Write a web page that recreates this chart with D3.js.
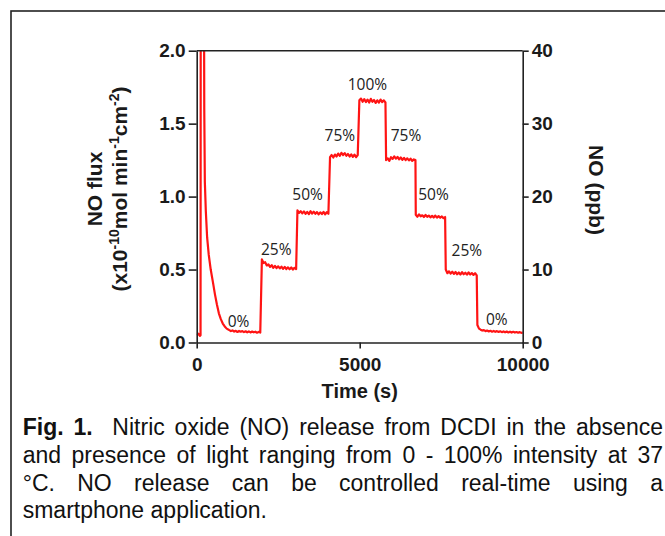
<!DOCTYPE html>
<html>
<head>
<meta charset="utf-8">
<script src="https://cdn.jsdelivr.net/npm/d3@7"></script>
<style>
  body { margin: 0; background: #fff; }
  svg { display: block; }
</style>
</head>
<body>
<script>
// NO flux trace, time in s, flux in x10^-10 mol min^-1 cm^-2
const startTrace = [[0,0.05],[50,0.06],[100,0.045],[118,0.05],[124,2.6],[222,2.6],[232,1.6],[250,1.1],[280,0.9],
  [320,0.72],[370,0.6],[430,0.5],[500,0.41],[560,0.33],[620,0.26],[680,0.2],[740,0.16],[800,0.13],[860,0.11],
  [920,0.095],[980,0.088]];
// plateaus sampled every 50 s from their start time
const off1 = {t0: 1000, v: [0.085,0.078,0.083,0.075,0.08,0.072,0.079,0.074,0.078,0.071,0.077,0.07,0.076,0.069,0.075,0.07,0.074,0.067,0.073,0.068]};
const on25a = {t0: 2000, v: [0.57,0.545,0.55,0.528,0.535,0.518,0.53,0.512,0.525,0.51,0.522,0.508,0.52,0.505,0.518,0.503,0.515,0.502,0.514,0.5,0.512,0.503]};
const on50a = {t0: 3090, v: [0.905,0.888,0.9,0.885,0.898,0.882,0.895,0.88,0.9,0.884,0.896,0.882,0.894,0.878,0.892,0.88,0.895,0.879,0.893,0.882]};
const on75a = {t0: 4090, v: [1.27,1.285,1.268,1.288,1.275,1.295,1.28,1.3,1.285,1.298,1.28,1.292,1.275,1.29,1.272,1.288,1.27,1.285]};
const on100 = {t0: 4990, v: [1.66,1.672,1.65,1.668,1.648,1.665,1.645,1.67,1.65,1.662,1.642,1.66,1.645,1.665,1.648,1.66,1.645]};
const on75b = {t0: 5810, v: [1.25,1.262,1.245,1.27,1.258,1.275,1.26,1.272,1.255,1.268,1.252,1.265,1.25,1.262,1.248,1.26,1.245,1.255,1.25]};
const on50b = {t0: 6720, v: [0.875,0.862,0.878,0.865,0.872,0.86,0.874,0.862,0.87,0.858,0.868,0.857,0.87,0.856,0.866,0.855,0.864,0.852,0.86]};
const on25b = {t0: 7640, v: [0.5,0.475,0.488,0.472,0.485,0.47,0.483,0.468,0.48,0.466,0.482,0.468,0.478,0.465,0.48,0.466,0.476,0.463,0.475,0.46]};
const off2 = {t0: 8610, v: [0.12,0.095,0.088,0.082,0.085,0.078,0.082,0.076,0.08,0.074,0.079,0.073,0.078,0.072,0.077,0.071,0.076,0.07,0.075,0.069,0.074,0.068,0.073,0.068,0.072,0.067,0.071,0.066,0.068]};
const sampleStep = 50;

// light intensity labels (centre time, baseline flux)
const stepLabels = [
  {text: "0%", t: 1285, v: 0.106},
  {text: "25%", t: 2440, v: 0.60},
  {text: "50%", t: 3400, v: 0.98},
  {text: "75%", t: 4390, v: 1.38},
  {text: "100%", t: 5235, v: 1.73},
  {text: "75%", t: 6420, v: 1.38},
  {text: "50%", t: 7265, v: 0.98},
  {text: "25%", t: 8285, v: 0.59},
  {text: "0%", t: 9207, v: 0.12}
];

const fluxTicks = [0, 0.5, 1.0, 1.5, 2.0];
const ppbTicks = [0, 10, 20, 30, 40];
const timeTicks = [0, 5000, 10000];

const captionLines = [
  "Fig. 1.  Nitric oxide (NO) release from DCDI in the absence",
  "and presence of light ranging from 0 - 100% intensity at 37",
  "°C. NO release can be controlled real-time using a",
  "smartphone application."
];

const W = 665, H = 536;
const plot = {left: 196.7, right: 522.7, top: 50.7, bottom: 342.5};

const svg = d3.select("body").append("svg").attr("width", W).attr("height", H);

// frame around figure + caption
svg.append("rect").attr("x", 11).attr("y", 11).attr("width", 720).attr("height", 600)
  .attr("fill", "none").attr("stroke", "#222").attr("stroke-width", 1.6);

const x = d3.scaleLinear().domain([0, 10000]).range([plot.left, plot.right]);
const y = d3.scaleLinear().domain([0, 2]).range([plot.bottom, plot.top]);
const y2 = d3.scaleLinear().domain([0, 40]).range([plot.bottom, plot.top]);

// build trace
let trace = startTrace.slice();
[off1, on25a, on50a, on75a, on100, on75b, on50b, on25b, off2].forEach(s => {
  s.v.forEach((v, i) => trace.push([s.t0 + i * sampleStep, v]));
});

svg.append("clipPath").attr("id", "clip").append("rect")
  .attr("x", plot.left).attr("y", plot.top)
  .attr("width", plot.right - plot.left).attr("height", plot.bottom - plot.top);

const line = d3.line().x(d => x(d[0])).y(d => y(d[1]));
svg.append("path").datum(trace)
  .attr("clip-path", "url(#clip)")
  .attr("d", line)
  .attr("fill", "none").attr("stroke", "#ff1414")
  .attr("stroke-width", 2.2).attr("stroke-linejoin", "round");

// axes
const axisFont = "Liberation Sans, Arial, sans-serif";
function styleAxis(g) {
  g.select(".domain").attr("stroke", "#222").attr("stroke-width", 1.6);
  g.selectAll(".tick line").attr("stroke", "#222").attr("stroke-width", 1.6);
  g.selectAll(".tick text").attr("fill", "#1a1a1a")
    .style("font-family", axisFont).style("font-weight", "bold").style("font-size", "19px");
}

svg.append("g").attr("transform", `translate(${plot.left},0)`)
  .call(d3.axisLeft(y).tickValues(fluxTicks).tickFormat(d3.format(".1f")).tickSize(8).tickPadding(3).tickSizeOuter(0))
  .call(styleAxis);
svg.append("g").attr("transform", `translate(${plot.right},0)`)
  .call(d3.axisRight(y2).tickValues(ppbTicks).tickSize(6).tickPadding(3).tickSizeOuter(0))
  .call(styleAxis);
svg.append("g").attr("transform", `translate(0,${plot.bottom})`)
  .call(d3.axisBottom(x).tickValues(timeTicks).tickFormat(d3.format("d")).tickSize(6).tickPadding(9).tickSizeOuter(0))
  .call(styleAxis);
// top frame line
svg.append("line").attr("x1", plot.left).attr("x2", plot.right)
  .attr("y1", plot.top).attr("y2", plot.top)
  .attr("stroke", "#222").attr("stroke-width", 1.6);

// axis titles
svg.append("text").attr("x", (plot.left + plot.right) / 2).attr("y", 397.5)
  .attr("text-anchor", "middle").attr("fill", "#1a1a1a")
  .style("font-family", axisFont).style("font-weight", "bold").style("font-size", "20px")
  .text("Time (s)");

const yt = svg.append("g").attr("transform", "translate(0,189) rotate(-90)")
  .style("font-family", axisFont).style("font-weight", "bold").style("font-size", "21px")
  .attr("fill", "#1a1a1a").attr("text-anchor", "middle");
yt.append("text").attr("x", 0).attr("y", 102).text("NO flux");
const t2 = yt.append("text").attr("x", 0).attr("y", 127);
t2.append("tspan").text("(x10");
t2.append("tspan").attr("dy", -8).style("font-size", "14px").text("-10");
t2.append("tspan").attr("dy", 8).text("mol min");
t2.append("tspan").attr("dy", -8).style("font-size", "14px").text("-1");
t2.append("tspan").attr("dy", 8).text("cm");
t2.append("tspan").attr("dy", -8).style("font-size", "14px").text("-2");
t2.append("tspan").attr("dy", 8).text(")");

svg.append("text").attr("transform", "translate(589,190) rotate(90)")
  .attr("text-anchor", "middle").attr("fill", "#1a1a1a")
  .style("font-family", axisFont).style("font-weight", "bold").style("font-size", "21px")
  .text("NO (ppb)");

// step labels
svg.append("g").selectAll("text").data(stepLabels).join("text")
  .attr("x", d => x(d.t)).attr("y", d => y(d.v))
  .attr("text-anchor", "middle").attr("fill", "#222")
  .style("font-family", "Open Sans, sans-serif").style("font-size", "15.5px")
  .text(d => d.text);

// caption, justified
const capLeft = 22.7, capRight = 663, capSize = 23;
const capBase = [435, 462.8, 490.6, 518.4];
const justify = [true, true, true, false];
const cap = svg.append("g").style("font-family", axisFont).style("font-size", capSize + "px").attr("fill", "#111");
captionLines.forEach((ln, li) => {
  const tokens = ln.split(" ");
  const nodes = tokens.map((tok, ti) => {
    const t = cap.append("text").attr("y", capBase[li]).text(tok);
    if (li === 0 && ti < 2) t.style("font-weight", "bold");
    return t;
  });
  const widths = nodes.map(n => tok => 0) && nodes.map(n => n.node().getComputedTextLength());
  const spaceW = 0.278 * capSize;
  const gaps = tokens.length - 1;
  const natural = d3.sum(widths) + gaps * spaceW;
  const gap = justify[li] ? spaceW + (capRight - capLeft - natural) / gaps : spaceW;
  let cx = capLeft;
  nodes.forEach((n, i) => {
    n.attr("x", cx);
    cx += widths[i] + gap;
  });
});
</script>
</body>
</html>
